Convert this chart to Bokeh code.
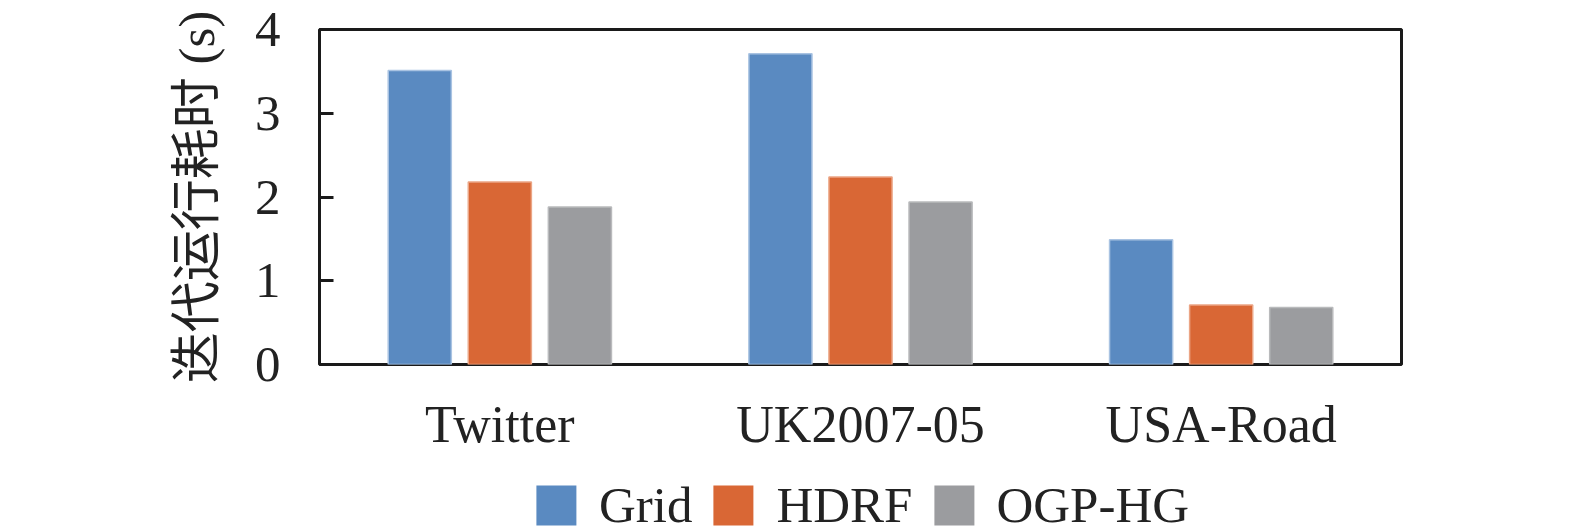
from bokeh.plotting import figure
from bokeh.layouts import column
from bokeh.models import ColumnDataSource, Range1d, FixedTicker, Legend, LegendItem
from bokeh.transform import dodge
from bokeh.embed import file_html
from bokeh.resources import INLINE

categories = ["Twitter", "UK2007-05", "USA-Road"]
series = ["Grid", "HDRF", "OGP-HG"]
grid_vals = [3.51, 3.71, 1.49]
hdrf_vals = [2.18, 2.24, 0.71]
ogp_vals = [1.88, 1.94, 0.68]
colors = ["#5a8ac1", "#d96735", "#9b9c9f"]
edge_colors = ["#a9c3e2", "#eba585", "#b9babc"]
y_ticks = [0, 1, 2, 3, 4]

source = ColumnDataSource(dict(cat=categories, Grid=grid_vals, HDRF=hdrf_vals, OGP=ogp_vals))

serif = "Liberation Serif"
W = 1559

p = figure(x_range=categories, y_range=Range1d(0, 4), width=W, height=460,
           output_backend="svg", toolbar_location=None,
           min_border_left=319, min_border_right=W - 1401, min_border_top=29, min_border_bottom=96)

offsets = [-0.222, 0.0, 0.222]
cols = ["Grid", "HDRF", "OGP"]
for off, col, c, ec in zip(offsets, cols, colors, edge_colors):
    p.vbar(x=dodge("cat", off, range=p.x_range), top=col, width=0.175, source=source,
           fill_color=c, line_color=ec, line_width=1.5)

p.xgrid.grid_line_color = None
p.ygrid.grid_line_color = None
p.outline_line_color = "#1a1a1a"
p.outline_line_width = 3

p.yaxis.ticker = FixedTicker(ticks=y_ticks)
p.yaxis.axis_line_color = None
p.yaxis.major_tick_in = 14
p.yaxis.major_tick_out = 0
p.yaxis.major_tick_line_width = 3
p.yaxis.major_tick_line_color = "#1a1a1a"
p.yaxis.minor_tick_line_color = None
p.yaxis.major_label_text_font = serif
p.yaxis.major_label_text_font_size = "51px"
p.yaxis.major_label_text_color = "#222222"
p.yaxis.major_label_standoff = 39
p.yaxis.axis_label = "迭代运行耗时 (s)"
p.yaxis.axis_label_text_font = "Liberation Serif, Noto Sans CJK SC"
p.yaxis.axis_label_text_font_size = "51px"
p.yaxis.axis_label_text_font_style = "normal"
p.yaxis.axis_label_text_color = "#222222"
p.yaxis.axis_label_standoff = 27

p.xaxis.axis_line_color = None
p.xaxis.major_tick_line_color = None
p.xaxis.major_tick_out = 0
p.xaxis.major_tick_in = 0
p.xaxis.minor_tick_line_color = None
p.xaxis.major_label_text_font = serif
p.xaxis.major_label_text_font_size = "52px"
p.xaxis.major_label_text_color = "#222222"
p.xaxis.major_label_standoff = 31

# legend panel below the chart: same bars, kept far below this panel's visible y-range
lg = figure(width=W, height=71, x_range=categories, y_range=Range1d(1000, 1001),
            output_backend="svg", toolbar_location=None,
            x_axis_type=None, y_axis_type=None,
            min_border_left=319, min_border_right=W - 1401, min_border_top=18, min_border_bottom=0)
lg.outline_line_color = None
lg.xgrid.grid_line_color = None
lg.ygrid.grid_line_color = None
items = []
for s, off, col, c in zip(series, offsets, cols, colors):
    r = lg.vbar(x=dodge("cat", off, range=lg.x_range), top=col, width=0.175, source=source,
                fill_color=c, line_color=None)
    items.append(LegendItem(label=s, renderers=[r]))
legend = Legend(items=items, orientation="horizontal", location="center",
                border_line_color=None, background_fill_alpha=0,
                glyph_width=50, glyph_height=50, label_standoff=18, spacing=16,
                label_text_font=serif, label_text_font_size="51px", label_text_color="#222222",
                padding=0, margin=0)
lg.add_layout(legend)

layout = column(p, lg, spacing=0)
open("out.html", "w").write(file_html(layout, INLINE))
